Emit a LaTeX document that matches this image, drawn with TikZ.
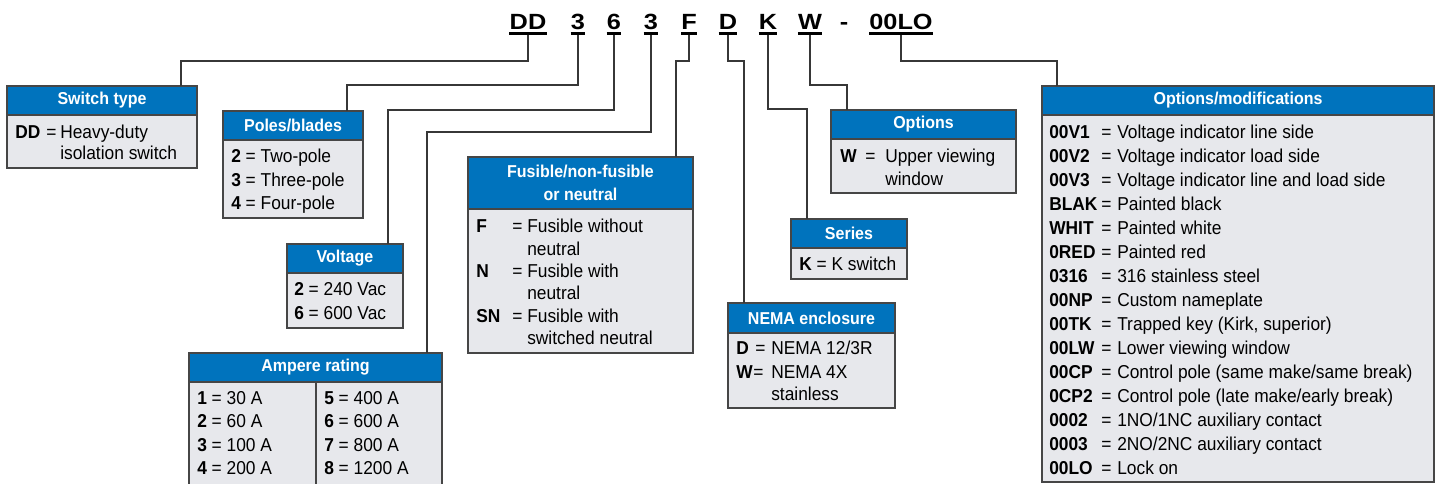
\documentclass[tikz,border=0pt]{standalone}
\usepackage{fontspec}
\setmainfont{Liberation Sans}[FakeStretch=0.93]
\newfontfamily\codefont{Liberation Sans}[FakeStretch=1.15]
\usetikzlibrary{positioning}
\definecolor{hdrblue}{RGB}{0,115,189}
\definecolor{boxgray}{RGB}{231,232,236}
\definecolor{edgegray}{RGB}{70,70,70}
\definecolor{wiregray}{RGB}{55,55,55}
% name, left, top, right, header bottom, bottom, title
\newcommand{\infobox}[7]{%
  \filldraw[bodyfill] (#2,#5) rectangle (#4,#6);
  \filldraw[headfill] (#2,#3) rectangle (#4,#5);
  \node[headtext] (#1) at ({(#2+#4)/2},{(#3+#5)/2}) {#7};}

\begin{document}
\begin{tikzpicture}[x=0.75pt, y=-0.75pt,
  headfill/.style={fill=hdrblue, draw=edgegray, line width=1pt},
  bodyfill/.style={fill=boxgray, draw=edgegray, line width=1pt},
  headtext/.style={text=white, font=\bfseries\fontsize{12.9}{17}\selectfont, align=center, inner sep=0},
  row/.style={anchor=base west, inner sep=0, font=\fontsize{14}{17}\selectfont},
  keytext/.style={row, font=\bfseries\fontsize{14}{17}\selectfont},
  code/.style={anchor=base, inner sep=0, font=\codefont\bfseries\fontsize{16.5}{20}\selectfont},
  uline/.style={line width=1.9pt},
  conn/.style={draw=wiregray, line width=0.8pt}]
  \useasboundingbox (0,0) rectangle (1439,483);

  % catalog number
  \foreach \n/\x/\t in {k-dd/528/DD, k-p/578/3, k-v/614/6, k-a/651/3, k-f/689/F, k-n/728/D, k-s/768/K, k-o/810/W, k-m/901/00LO} {
    \node[code] (\n) at (\x,29) {\t};
    \draw[uline] ([yshift=-3.4pt]\n.base west) -- ([yshift=-3.4pt]\n.base east);
  }
  \node[code] (k-dash) at (844,29) {-};

  % boxes
  \infobox{sw}{7}{86}{197}{115}{168}{Switch type}
  \node[keytext] (sw-k1) at (15,138.5) {DD};
  \node[row] (sw-e1) at (46,138.5) {=};
  \node[row] (sw-t1) at (60,138.5) {Heavy-duty};
  \node[row] (sw-t2) at (60,159.5) {isolation switch};

  \infobox{pb}{223}{111}{363}{140}{218}{Poles/blades}
  \foreach \k/\t [count=\i] in {2/Two-pole, 3/Three-pole, 4/Four-pole}
    \node[row] (pb-r\i) at (231,{162.5+23.5*(\i-1)}) {\textbf{\k} = \t};

  \infobox{vt}{287}{244}{403}{273}{328}{Voltage}
  \foreach \k/\t [count=\i] in {2/240, 6/600}
    \node[row] (vt-r\i) at (294,{295.5+24*(\i-1)}) {\textbf{\k} = \t\ Vac};

  \infobox{am}{189}{353}{442}{382}{492}{Ampere rating}
  \draw[bodyfill] (316,382) -- (316,492);
  \foreach \k/\t [count=\i] in {1/30, 2/60, 3/100, 4/200}
    \node[row] (am-a\i) at (197,{404.5+23.4*(\i-1)}) {\textbf{\k} = \t\ A};
  \foreach \k/\t [count=\i] in {5/400, 6/600, 7/800, 8/1200}
    \node[row] (am-b\i) at (324,{404.5+23.4*(\i-1)}) {\textbf{\k} = \t\ A};

  \infobox{fu}{468}{157}{693}{209}{353}{Fusible/non-fusible\\or neutral}
  \foreach \k/\ta/\tb [count=\i] in {F/Fusible without/neutral, N/Fusible with/neutral, SN/Fusible with/switched neutral} {
    \node[keytext] (fu-k\i) at (476,{232.5+44.8*(\i-1)}) {\k};
    \node[row] (fu-e\i) at (512,{232.5+44.8*(\i-1)}) {=};
    \node[row] (fu-a\i) at (527,{232.5+44.8*(\i-1)}) {\ta};
    \node[row] (fu-b\i) at (527,{255+44.8*(\i-1)}) {\tb};
  }

  \infobox{op}{831}{110}{1016}{139}{193}{Options}
  \node[keytext] (op-k1) at (840,162.5) {W};
  \node[row] (op-e1) at (865,162.5) {=};
  \node[row] (op-t1) at (885,162.5) {Upper viewing};
  \node[row] (op-t2) at (885,185.5) {window};

  \infobox{se}{791}{219}{907}{248}{279}{Series}
  \node[row] (se-r1) at (799,270.5) {\textbf{K} = K switch};

  \infobox{ne}{728}{303}{895}{333}{408}{NEMA enclosure}
  \node[keytext] (ne-k1) at (736,354.5) {D};
  \node[row] (ne-e1) at (755,354.5) {=};
  \node[row] (ne-t1) at (771,354.5) {NEMA 12/3R};
  \node[keytext] (ne-k2) at (736,378.5) {W};
  \node[row] (ne-e2) at (753,378.5) {=};
  \node[row] (ne-t2) at (771,378.5) {NEMA 4X};
  \node[row] (ne-t3) at (771,400.5) {stainless};

  \infobox{om}{1042}{86}{1434}{115}{482}{Options/modifications}
  \foreach \k/\t [count=\i] in {00V1/Voltage indicator line side, 00V2/Voltage indicator load side,
      00V3/Voltage indicator line and load side, BLAK/Painted black, WHIT/Painted white,
      0RED/Painted red, 0316/316 stainless steel, 00NP/Custom nameplate,
      {00TK/Trapped key (Kirk, superior)}, 00LW/Lower viewing window,
      00CP/{Control pole (same make/same break)}, 0CP2/{Control pole (late make/early break)},
      0002/{1NO/1NC auxiliary contact}, 0003/{2NO/2NC auxiliary contact}, 00LO/Lock on} {
    \node[keytext] (om-k\i) at (1049,{138.5+24*(\i-1)}) {\k};
    \node[row] (om-e\i) at (1101,{138.5+24*(\i-1)}) {=};
    \node[row] (om-t\i) at (1117,{138.5+24*(\i-1)}) {\t};
  }

  % connectors
  \coordinate (sw-in) at (181,86);
  \coordinate (pb-in) at (347,111);
  \coordinate (vt-in) at (388,244);
  \coordinate (am-in) at (427,353);
  \coordinate (fu-in) at (676,157);
  \coordinate (ne-in) at (744,303);
  \coordinate (se-in) at (807,219);
  \coordinate (op-in) at (847,110);
  \coordinate (om-in) at (1057,86);
  \foreach \from/\lev/\to in {k-dd/61/sw-in, k-p/85/pb-in, k-v/110/vt-in, k-a/132/am-in, k-f/61/fu-in,
      k-n/61/ne-in, k-s/109/se-in, k-o/85/op-in, k-m/61/om-in}
    \draw[conn] ([yshift=-4pt]\from.south) -- (\from.south |- 0,\lev) -| (\to);
\end{tikzpicture}
\end{document}
